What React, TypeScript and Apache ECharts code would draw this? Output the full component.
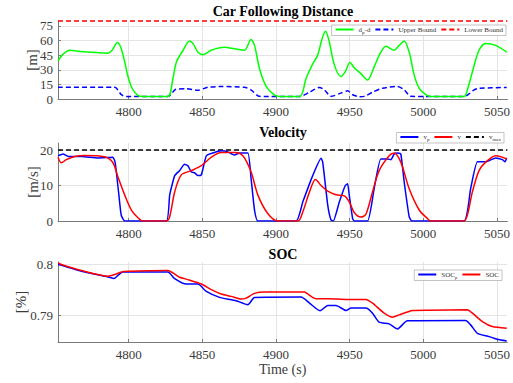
import React, { useEffect, useRef } from 'react';
import * as echarts from 'echarts';

// ---------- Data ----------
const xMin = 4752;
const xMax = 5057;
const xTickValues = [4800, 4850, 4900, 4950, 5000, 5050];

// Car following distance
const dpdTime = [4752, 4755.5, 4760, 4765.7, 4774.7, 4786, 4788.7, 4792.3, 4794.6, 4797.3, 4799.5, 4802.3, 4806.3, 4810, 4826.4, 4830, 4832.4, 4836.9, 4841.3, 4844, 4847, 4850.5, 4856, 4865, 4871.8, 4878.6, 4883, 4885.4, 4888.8, 4893.3, 4899, 4903, 4916, 4920.4, 4924.9, 4928.3, 4931.2, 4933.5, 4935.7, 4939.6, 4944.1, 4947, 4950.2, 4953.1, 4957.6, 4962.1, 4966.6, 4971.1, 4974.6, 4980.2, 4983.6, 4987, 4990.4, 4993.8, 4997.2, 5001.7, 5005, 5027.6, 5030, 5033.3, 5037.8, 5042.3, 5049.1, 5056.6];
const dpdValues = [39, 46, 50, 49, 48, 47, 50, 58, 53, 38, 23, 11, 3.5, 2.5, 2.5, 21, 38, 50, 59.5, 56, 48, 45.5, 50, 53, 51.5, 50, 61, 55, 31, 13, 4, 2.5, 2.5, 21, 36, 45, 61.5, 69.5, 61.5, 35, 23, 28, 37.5, 32, 26, 19.5, 33, 48, 54, 50, 55, 59.5, 48, 24.5, 11, 4.4, 2.5, 2.5, 10, 28, 50, 57, 55, 48];

const upperTime = [4752, 4790.5, 4795, 4798.4, 4826.6, 4832, 4838.8, 4847, 4853.6, 4862.7, 4878.5, 4883, 4888.8, 4916, 4922.7, 4929.4, 4932.8, 4937.3, 4944.1, 4948.6, 4952, 4956.5, 4959.9, 4965.5, 4972.3, 4982.4, 4987, 4991.5, 5027.6, 5034.5, 5037.8, 5056.6];
const upperValues = [12, 12, 4.4, 2.5, 2.5, 10, 10.5, 9, 12, 12.8, 12, 9.4, 2.7, 2.5, 7, 11.8, 9.4, 2.7, 6, 8.4, 4.4, 2.4, 2.7, 7, 11, 12.8, 9.4, 2.7, 2.5, 9.4, 11, 11.8];

const lowerTime = [4752, 5057];
const lowerValues = [80, 80];

// Velocity
const vpTime = [4752, 4755.5, 4758.9, 4767.9, 4779.2, 4789.2, 4790.8, 4793.1, 4794.9, 4797.3, 4825.5, 4827.8, 4831.2, 4834.5, 4837.9, 4840.2, 4842.5, 4844.7, 4847, 4849.3, 4852.7, 4857.2, 4862.8, 4867.3, 4871.8, 4875.2, 4880.9, 4883.1, 4885.4, 4887.7, 4913.7, 4918.2, 4924.9, 4930.6, 4931.7, 4935.1, 4937.3, 4938.9, 4943, 4947, 4948.6, 4949.7, 4952, 4953.1, 4962.1, 4966.6, 4971.1, 4975.7, 4978, 4980.2, 4982.4, 4984.7, 4987, 4990.4, 4992.2, 5027.6, 5032.1, 5036.7, 5042.3, 5049.1, 5053.6, 5055.5, 5056.6];
const vpValues = [18.4, 18.9, 18.2, 18.2, 17.8, 18, 16.5, 8.2, 1.7, 0, 0, 7.3, 12.8, 14.2, 16, 15.6, 13.8, 13.6, 12.8, 13, 18.4, 19.2, 19.8, 19.5, 18.6, 19.2, 19.2, 11.9, 3.1, 0, 0, 5.4, 12.8, 17.7, 16.6, 4.5, 0.3, 0, 5.4, 10, 10.5, 7.3, 0.7, 0, 0, 9.1, 17.5, 17.5, 17.3, 18.9, 19.2, 18.9, 11, 1.2, 0, 0, 9.1, 16.7, 16.7, 17.8, 17.3, 16.7, 17.8];

const vTime = [4752, 4754.3, 4757.6, 4763.3, 4770, 4783.6, 4789.2, 4792.7, 4797.3, 4801.8, 4806.3, 4809.7, 4825.5, 4827.8, 4831.2, 4835.7, 4842.5, 4849.3, 4856.1, 4862.8, 4871.8, 4877.5, 4883.1, 4887.7, 4894.4, 4901.2, 4914.8, 4918.2, 4922.7, 4926.8, 4930.6, 4935.1, 4940.7, 4946.4, 4949.7, 4953.1, 4957.6, 4961, 4965.5, 4970, 4976.8, 4980.2, 4984.7, 4990.4, 4997.2, 5002.8, 5005, 5027.6, 5029.9, 5033.3, 5037.8, 5042.3, 5049.1, 5053.6, 5056.6];
const vValues = [18, 16.4, 17.3, 18.2, 18.5, 18.1, 16.5, 12.4, 7.3, 3.1, 0.9, 0, 0, 1.2, 8.2, 13, 14.2, 15.6, 18, 19.3, 19.3, 18.4, 13.8, 7.3, 2.1, 0, 0, 2.6, 8.2, 11.7, 10, 8.4, 7.4, 7.1, 5.4, 2.4, 1.1, 1.9, 8.2, 14.2, 18.4, 19.2, 16.6, 9.1, 3.1, 0.7, 0, 0, 1.7, 8.2, 14.2, 16.6, 18.4, 18, 17.5];

const vmaxTime = [4752, 5057];
const vmaxValues = [20, 20];

// SOC
const socPTime = [4752, 4756.6, 4767.9, 4786, 4790, 4792.7, 4796.1, 4826.6, 4831.2, 4839.1, 4847, 4852.7, 4861.7, 4869.6, 4873, 4880.9, 4885.4, 4917, 4922.7, 4929.9, 4935.1, 4940.7, 4947.5, 4950.9, 4961, 4965.5, 4970, 4976.8, 4982.4, 4989.2, 5028.7, 5032.1, 5036.7, 5044.6, 5050.2, 5056.6];
const socPValues = [0.8, 0.79967, 0.79868, 0.79757, 0.79724, 0.79789, 0.79855, 0.79855, 0.79724, 0.79618, 0.79618, 0.79474, 0.79355, 0.79309, 0.79289, 0.79211, 0.79355, 0.79362, 0.79243, 0.79092, 0.79197, 0.79197, 0.79099, 0.79145, 0.79145, 0.79046, 0.78868, 0.78836, 0.78737, 0.78895, 0.78901, 0.78816, 0.78651, 0.78586, 0.78533, 0.785];

const socTime = [4752, 4754.3, 4767.9, 4786, 4790.5, 4795, 4799.5, 4826.6, 4830, 4834.5, 4840.2, 4849.3, 4856.1, 4862.8, 4869.6, 4876.4, 4879.7, 4885.4, 4892.2, 4919.2, 4923.8, 4927.2, 4936.2, 4947.5, 4961, 4965.5, 4973.4, 4979.1, 4983.6, 4992.6, 5003.9, 5029.9, 5033.3, 5040.1, 5046.8, 5056.6];
const socValues = [0.80033, 0.8, 0.79882, 0.7977, 0.79803, 0.79855, 0.79868, 0.79882, 0.79836, 0.7975, 0.79704, 0.79618, 0.79507, 0.79421, 0.79375, 0.79322, 0.79342, 0.79434, 0.79461, 0.79461, 0.79375, 0.79329, 0.79329, 0.79316, 0.79316, 0.79243, 0.79046, 0.78967, 0.79013, 0.79099, 0.79105, 0.79112, 0.79046, 0.78882, 0.78783, 0.7875];

const distTicks = [0, 15, 30, 45, 60, 75];
const velTicks = [0, 10, 20];
const socTicks = [0.79, 0.8];

// ---------- Helpers ----------
const zip = (t: number[], v: number[]) => t.map((x, i) => [x, v[i]]);
const FONT = 'Liberation Serif';
const AXIS_COLOR = '#7a7a7a';
const GRID_COLOR = '#e4e4e4';
const LABEL_COLOR = '#3a3a3a';

function xAxisFor(gridIndex: number, withName: boolean) {
  return {
    type: 'value',
    gridIndex,
    min: xMin,
    max: xMax,
    name: withName ? 'Time (s)' : '',
    nameLocation: 'middle',
    nameGap: 20,
    nameMoveOverlap: false,
    nameTextStyle: { fontFamily: FONT, fontSize: 14, color: LABEL_COLOR },
    axisLine: { show: true, onZero: false, lineStyle: { color: AXIS_COLOR, width: 1 } },
    axisTick: { show: true, inside: true, length: 3, customValues: xTickValues, lineStyle: { color: AXIS_COLOR } },
    axisLabel: {
      customValues: xTickValues,
      formatter: (v: number) => String(v),
      fontFamily: FONT,
      fontSize: 13,
      color: LABEL_COLOR,
      margin: 6,
    },
    splitLine: { show: true, lineStyle: { color: GRID_COLOR, width: 1 } },
  };
}

function yAxisFor(gridIndex: number, name: string, min: number, max: number, ticks: number[], nameGap: number) {
  return {
    type: 'value',
    gridIndex,
    min,
    max,
    name,
    nameLocation: 'middle',
    nameGap,
    nameMoveOverlap: false,
    nameTextStyle: { fontFamily: FONT, fontSize: 15, color: LABEL_COLOR },
    axisLine: { show: true, onZero: false, lineStyle: { color: AXIS_COLOR, width: 1 } },
    axisTick: { show: true, inside: true, length: 3, customValues: ticks, lineStyle: { color: AXIS_COLOR } },
    axisLabel: {
      customValues: ticks,
      formatter: (v: number) => String(Math.round(v * 1000) / 1000),
      fontFamily: FONT,
      fontSize: 13,
      color: LABEL_COLOR,
      margin: 5,
    },
    splitLine: { show: true, lineStyle: { color: GRID_COLOR, width: 1 } },
  };
}

function line(name: string, data: number[][], idx: number, color: string, opts: any = {}) {
  return {
    type: 'line',
    name,
    data,
    xAxisIndex: idx,
    yAxisIndex: idx,
    symbol: 'none',
    showSymbol: false,
    smooth: opts.smooth ?? 0.3,
    clip: opts.clip ?? true,
    lineStyle: { color, width: 1.5, type: opts.dash ? [5, 3] : 'solid' },
    itemStyle: { color },
    z: opts.z ?? 2,
  };
}

const legendRich = {
  n: { fontFamily: FONT, fontSize: 7, color: '#333' },
  s: { fontFamily: FONT, fontSize: 5, color: '#333', padding: [5, 0, 0, 0] },
};

const legendNames: Record<string, string> = {
  dpd: '{n|d}{s|p}{n|-d}',
  vp: '{n|v}{s|p}',
  v: '{n|v}',
  vmax: '{n|v}{s|max}',
  socp: '{n|SOC}{s|p}',
  soc: '{n|SOC}',
};

function legendFor(data: string[], right: number, top: number) {
  return {
    data,
    right,
    top,
    orient: 'horizontal',
    backgroundColor: '#ffffff',
    borderColor: '#9a9a9a',
    borderWidth: 0.6,
    borderRadius: 0,
    padding: [1, 3, 1, 3],
    itemGap: 4,
    itemWidth: 18,
    itemHeight: 8,
    itemStyle: { opacity: 0 },
    formatter: (name: string) => legendNames[name] ?? `{n|${name}}`,
    textStyle: { fontFamily: FONT, fontSize: 7, color: '#333', rich: legendRich },
  };
}

function titleText(text: string, y: number) {
  return {
    type: 'text',
    x: 283,
    y,
    style: {
      text,
      fontFamily: FONT,
      fontSize: 14,
      fontWeight: 'bold',
      fill: '#000',
      align: 'center',
      verticalAlign: 'middle',
    },
  };
}

export default function App() {
  const ref = useRef<HTMLDivElement>(null);

  useEffect(() => {
    if (!ref.current) return;
    const chart = echarts.init(ref.current, null, { renderer: 'svg' });
    const option: any = {
      animation: false,
      backgroundColor: '#ffffff',
      textStyle: { fontFamily: FONT },
      grid: [
        { left: 58, right: 5.3, top: 21, height: 78 },
        { left: 58, right: 5.3, top: 143, height: 78 },
        { left: 58, right: 5.3, top: 262, height: 80 },
      ],
      xAxis: [xAxisFor(0, false), xAxisFor(1, false), xAxisFor(2, true)],
      yAxis: [
        yAxisFor(0, '[m]', 0, 80, distTicks, 19),
        yAxisFor(1, '[m/s]', 0, 22, velTicks, 18),
        yAxisFor(2, '[%]', 0.7848, 0.8005, socTicks, 30),
      ],
      legend: [
        legendFor(['dpd', 'Upper Bound', 'Lower Bound'], 7, 25),
        legendFor(['vp', 'v', 'vmax'], 9, 132.5),
        legendFor(['socp', 'soc'], 11, 270),
      ],
      graphic: [
        titleText('Car Following Distance', 11),
        titleText('Velocity', 132.5),
        titleText('SOC', 254),
      ],
      series: [
        line('dpd', zip(dpdTime, dpdValues), 0, '#00ff00', { z: 3 }),
        line('Upper Bound', zip(upperTime, upperValues), 0, '#0000ff', { dash: true, smooth: 0.25 }),
        line('Lower Bound', zip(lowerTime, lowerValues), 0, '#ff0000', { dash: true, smooth: false, clip: false }),
        line('vp', zip(vpTime, vpValues), 1, '#0000ff', { smooth: 0.15, z: 3 }),
        line('v', zip(vTime, vValues), 1, '#ff0000', { smooth: 0.3, z: 4 }),
        line('vmax', zip(vmaxTime, vmaxValues), 1, '#000000', { dash: true, smooth: false }),
        line('socp', zip(socPTime, socPValues), 2, '#0000ff', { smooth: 0.2 }),
        line('soc', zip(socTime, socValues), 2, '#ff0000', { smooth: 0.2 }),
      ],
    };
    chart.setOption(option);
    return () => chart.dispose();
  }, []);

  return (
    <div
      ref={ref}
      style={{ position: 'fixed', left: 0, top: 0, width: 513, height: 383, background: '#fff' }}
    />
  );
}
